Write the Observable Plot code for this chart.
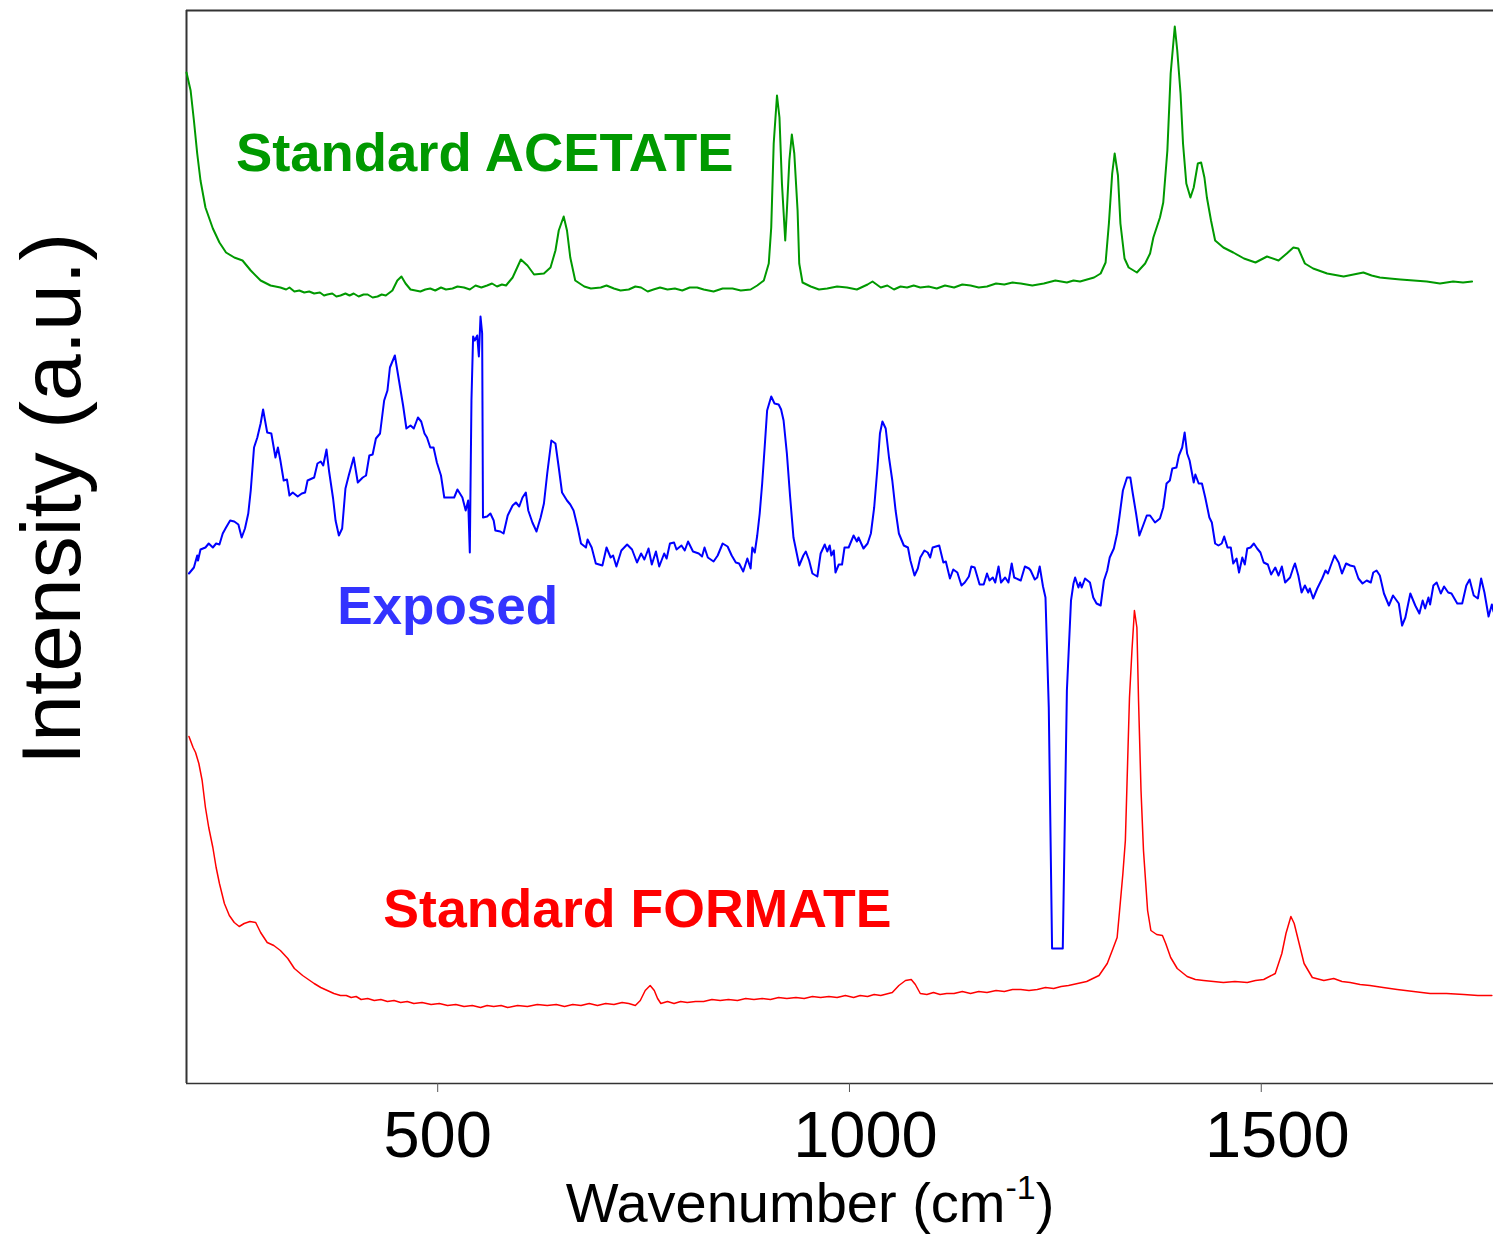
<!DOCTYPE html>
<html>
<head>
<meta charset="utf-8">
<script src="https://cdn.jsdelivr.net/npm/d3@7"></script>
<script src="https://cdn.jsdelivr.net/npm/@observablehq/plot@0.6"></script>
<style>
  html, body { margin: 0; padding: 0; background: #fff; }
  svg { display: block; }
</style>
</head>
<body>
<div id="chart"></div>
<script>
// ---- Data (wavenumber cm-1, intensity a.u. with vertical offsets as in the figure) ----
const seriesNames = ["Standard ACETATE", "Exposed", "Standard FORMATE"];
const tickValues = [500, 1000, 1500];

const acetate = [[195,1011],[200,993],[204,963],[208,930],[212,903],[218,876],[227,855],[235,841],[243,831],[253,826],
[263,823],[273,813],[285,803],[297,798],[303,797],[309,796],[316,794],[320,796],[326,792],[332,793],[338,791],[344,792],[350,790],[357,791],[362,788],[366,789],[372,790],[377,787],[382,788],[388,790],[393,788],[398,790],[404,787],[410,789],[415,789],[421,786],[427,787],[432,789],[437,788],
[445,793],[451,803],[456,807],[461,800],[467,794],[479,792],[485,794],[491,795],[497,793],[504,796],[510,794],[518,795],[524,797],[532,796],[539,794],[546,798],[553,796],[560,798],[566,800],[572,797],[578,799],[583,798],
[591,806],[601,824],[609,818],[617,809],[629,810],[637,816],[643,833],[647,853],[653,867],[657,853],
[661,826],[667,803],[678,797],[686,795],[698,796],[705,798],[714,795],[722,793],[732,794],[740,797],[747,796],[755,792],[762,794],[770,796],[779,794],[788,795],[797,793],[806,796],[815,796],[823,794],[835,792],[846,795],[858,795],[868,793],[880,794],
[888,798],[896,803],[902,820],[905,856],[908,940],[912,988],[915,966],[918,900],[922,843],[924,873],
[927,923],[930,949],[933,930],[937,873],[939,820],[943,801],[953,797],[963,794],[973,795],[985,797],[997,796],[1009,794],
[1022,799],[1028,802],[1038,796],[1046,798],[1054,794],[1062,797],[1070,796],[1078,798],[1086,796],[1096,797],[1106,795],[1116,798],[1127,796],[1137,799],[1147,798],[1157,796],[1167,797],[1178,800],[1188,799],[1198,801],[1208,800],[1222,798],[1236,800],[1250,803],[1264,801],[1272,803],
[1280,802],[1297,806],[1305,810],[1311,821],[1315,860],[1319,910],[1322,930],[1326,908],[1329,860],[1334,825],
[1339,816],[1349,811],[1359,820],[1365,830],[1369,846],[1377,866],[1381,881],[1386,933],[1390,1010],[1395,1057],
[1398,1033],[1402,990],[1405,940],[1409,900],[1414,886],[1418,896],[1423,920],[1427,921],[1431,906],[1434,886],
[1439,863],[1444,843],[1454,836],[1466,831],[1479,825],[1493,821],[1507,827],[1521,823],[1531,830],[1539,836],
[1545,835],[1553,820],[1563,815],[1580,810],[1600,807],[1612,809],[1624,811],[1634,808],[1644,806],[1656,805],[1669,804],[1685,803],[1701,802],[1717,800],[1733,802],[1745,801],[1756,802]];

const exposed = [[198,510],[204,516],[208,528],[209,523],[212,534],[218,536],[222,540],[227,536],[231,540],[235,539],[239,550],[243,556],[248,563],[253,562],[258,559],[262,546],[266,555],[270,570],[273,593],[277,636],[281,646],[285,660],[288,674],[293,651],[298,650],[303,626],[306,636],[309,623],[313,603],[317,604],[320,588],[324,591],[330,587],[335,590],[339,591],[342,603],[350,606],[354,620],[358,622],[361,618],[365,634],[368,613],[373,585],[376,563],[380,548],[384,555],[388,595],[392,608],[398,626],[403,601],[409,606],[413,608],[417,628],[421,629],[425,645],[430,650],[435,683],[439,693],[442,716],[448,728],[453,703],[458,678],[462,655],[467,658],[471,655],[476,666],[480,662],[484,650],[487,646],[491,636],[495,636],[499,621],[504,608],[508,586],[516,586],[520,586],[524,594],[530,586],[534,573],[537,583],[539,531],[541,683],[543,747],[545,743],[548,748],[550,727],[552,767],[554,750],[555,566],[560,567],[564,570],[568,563],[570,553],[576,552],[580,550],[585,568],[591,578],[595,581],[599,577],[603,586],[607,591],[610,573],[615,561],[620,552],[625,566],[629,580],[633,610],[638,643],[643,640],[647,616],[651,591],[657,583],[661,579],[665,573],[670,556],[674,540],[680,536],[682,544],[687,536],[692,520],[700,518],[705,536],[710,526],[713,528],[717,517],[723,533],[730,539],[736,534],[742,521],[747,530],[751,524],[756,535],[760,519],[765,532],[769,517],[775,530],[778,525],[782,540],[787,541],[790,534],[796,538],[800,533],[804,542],[810,532],[817,530],[821,527],[824,536],[828,526],[835,522],[840,528],[846,540],[852,537],[857,528],[862,521],[866,520],[871,512],[876,525],[880,515],[882,536],[885,531],[888,548],[891,570],[894,600],[897,636],[900,673],[905,687],[909,680],[914,679],[917,674],[920,663],[924,630],[928,586],[932,546],[936,530],[939,518],[944,528],[947,532],[951,523],[955,510],[961,507],[965,530],[970,539],[973,532],[976,538],[978,528],[981,533],[983,511],[987,519],[991,519],[994,536],[999,536],[1005,548],[1009,542],[1011,546],[1017,535],[1022,540],[1026,550],[1030,576],[1034,616],[1037,650],[1040,662],[1044,655],[1048,626],[1052,603],[1056,573],[1060,550],[1066,538],[1071,536],[1074,523],[1079,508],[1083,515],[1086,526],[1091,533],[1095,531],[1098,526],[1101,536],[1109,538],[1114,521],[1117,522],[1122,505],[1126,514],[1131,511],[1136,498],[1140,501],[1145,507],[1148,517],[1152,516],[1158,499],[1163,499],[1167,510],[1170,503],[1174,506],[1177,501],[1181,517],[1184,501],[1189,506],[1193,501],[1197,520],[1200,506],[1208,503],[1213,517],[1218,515],[1220,513],[1225,504],[1228,506],[1231,517],[1235,497],[1238,486],[1242,376],[1246,135],[1259,135],[1264,393],[1269,483],[1272,500],[1274,506],[1278,496],[1280,501],[1282,496],[1286,505],[1292,501],[1296,486],[1300,480],[1305,478],[1309,503],[1313,513],[1316,526],[1321,535],[1325,550],[1328,568],[1332,593],[1337,606],[1341,606],[1344,590],[1348,570],[1352,548],[1357,559],[1361,568],[1365,568],[1371,561],[1377,565],[1381,576],[1385,600],[1389,603],[1392,615],[1397,616],[1400,628],[1404,636],[1407,651],[1410,630],[1413,623],[1418,601],[1420,609],[1424,600],[1428,600],[1432,586],[1437,566],[1440,561],[1444,540],[1448,538],[1452,540],[1455,547],[1459,536],[1463,536],[1466,520],[1470,525],[1473,511],[1477,526],[1480,519],[1483,535],[1487,536],[1491,540],[1495,535],[1499,531],[1503,521],[1508,519],[1512,509],[1517,516],[1521,508],[1525,517],[1529,501],[1535,506],[1539,516],[1541,520],[1545,508],[1549,491],[1553,498],[1557,491],[1559,495],[1563,485],[1568,495],[1574,505],[1578,513],[1581,510],[1584,517],[1589,528],[1594,521],[1598,510],[1603,520],[1608,518],[1613,517],[1618,505],[1623,500],[1628,503],[1633,501],[1636,511],[1640,513],[1644,508],[1649,490],[1655,478],[1660,488],[1667,480],[1671,458],[1675,466],[1681,490],[1687,478],[1692,470],[1696,483],[1699,475],[1703,486],[1705,479],[1709,498],[1713,501],[1718,490],[1722,497],[1727,491],[1731,490],[1738,480],[1744,480],[1749,498],[1753,504],[1758,488],[1763,485],[1767,505],[1771,491],[1776,467],[1780,479],[1782,472]];

const formate = [[198,347],[203,336],[206,331],[210,320],[214,303],[218,276],[222,256],[227,236],[231,216],[235,200],[241,180],[247,168],[253,161],[259,157],[265,160],[272,162],[279,161],[285,151],[293,141],[301,138],[309,133],[318,125],[326,115],[336,108],[350,100],[358,96],
[366,93],[374,90],[382,88],[389,88],[395,86],[401,87],[407,84],[415,85],[423,83],[431,84],[439,82],[447,83],[455,81],[463,82],[471,80],[481,81],[492,79],[502,80],[512,78],[522,79],[532,77],[542,78],[552,76],[560,78],[568,77],[577,78],[585,76],[597,78],[609,77],[621,79],[633,78],[644,79],[654,77],[664,79],[674,78],[684,80],[694,78],[704,80],[714,79],[724,81],[732,80],
[740,78],[746,83],[752,93],[758,98],[763,93],[767,85],[771,80],[779,82],[787,80],[795,82],[803,81],[813,82],[823,82],[833,84],[843,83],[853,84],[864,83],[874,85],[884,84],[894,85],[904,84],[914,86],[924,85],[935,86],[945,85],[955,87],[965,86],[975,87],[985,86],[995,88],[1005,86],[1013,88],[1022,87],[1030,89],[1038,88],
[1052,91],[1060,98],[1068,103],[1075,104],[1080,99],[1086,90],[1094,89],[1102,91],[1110,89],[1118,90],[1127,90],[1137,92],[1147,90],[1157,92],[1167,91],[1178,93],[1188,92],[1198,94],[1208,94],[1218,93],[1228,94],[1238,96],[1248,95],[1257,97],[1266,98],[1277,100],[1288,102],
[1303,108],[1313,120],[1320,135],[1325,146],[1328,173],[1332,210],[1335,243],[1337,300],[1340,386],[1343,433],[1346,473],[1349,456],[1351,383],[1354,293],[1357,233],[1362,173],[1366,153],[1373,149],[1380,148],[1384,140],[1390,126],[1398,115],[1410,107],[1420,104],[1430,103],[1442,102],[1454,101],[1468,102],[1483,101],[1493,103],[1503,104],
[1517,110],[1525,130],[1530,150],[1536,167],[1540,160],[1546,140],[1552,120],[1562,106],[1576,103],[1588,105],[1598,102],[1608,101],[1620,99],[1632,98],[1648,96],[1665,94],[1685,92],[1705,90],[1725,90],[1746,89],[1763,88],[1780,88]];

const seriesColors = ["#009900", "#0000ff", "#ff0000"];
const labelColors = ["#009900", "#3333ff", "#ff0000"];

const xDomain = [195, 1782];
const yDomain = [0, 1073];

function rows(pairs, name) {
  return pairs.map(([w, v]) => ({series: name, wavenumber: w, intensity: v}));
}
const table = [
  ...rows(acetate, seriesNames[0]),
  ...rows(exposed, seriesNames[1]),
  ...rows(formate, seriesNames[2])
];

const font = "Arial, 'Liberation Sans', Helvetica, sans-serif";
const tickText = {tickSize: 0, tickPadding: 27, fontSize: 65, fill: "black", label: null, tickFormat: d => String(d)};

const svg = Plot.plot({
  width: 1493,
  height: 1234,
  marginLeft: 186,
  marginRight: 0,
  marginTop: 10,
  marginBottom: 151,
  style: {fontFamily: font, background: "white", color: "black", overflow: "visible"},
  x: {domain: xDomain, axis: null},
  y: {domain: yDomain, axis: null},
  marks: [
    Plot.ruleY([yDomain[1]], {stroke: "#333", strokeWidth: 2}),
    Plot.ruleY([yDomain[0]], {stroke: "#333", strokeWidth: 1.5}),
    Plot.ruleX([xDomain[0]], {stroke: "#333", strokeWidth: 2}),
    Plot.axisX({ticks: tickValues, tickSize: 9, stroke: "#555", label: null, tickFormat: () => ""}),
    Plot.axisX({ticks: tickValues.slice(0, 1), ...tickText}),
    Plot.axisX({ticks: tickValues.slice(1), dx: 16, ...tickText}),
    Plot.line(table.filter(d => d.series === seriesNames[0]), {x: "wavenumber", y: "intensity", stroke: seriesColors[0], strokeWidth: 2}),
    Plot.line(table.filter(d => d.series === seriesNames[1]), {x: "wavenumber", y: "intensity", stroke: seriesColors[1], strokeWidth: 2}),
    Plot.line(table.filter(d => d.series === seriesNames[2]), {x: "wavenumber", y: "intensity", stroke: seriesColors[2], strokeWidth: 1.5}),
    Plot.text([seriesNames[0]], {x: 255, y: 951, text: d => d, textAnchor: "start", lineAnchor: "top", fontSize: 54.4, fontWeight: "bold", fill: labelColors[0]}),
    Plot.text([seriesNames[1]], {x: 378, y: 497, text: d => d, textAnchor: "start", lineAnchor: "top", fontSize: 53, fontWeight: "bold", fill: labelColors[1]}),
    Plot.text([seriesNames[2]], {x: 434, y: 195, text: d => d, textAnchor: "start", lineAnchor: "top", fontSize: 53.6, fontWeight: "bold", fill: labelColors[2]})
  ]
});

const s = d3.select(svg);
// x-axis title with superscript
const xl = s.append("text")
  .attr("x", 810).attr("y", 1222)
  .attr("text-anchor", "middle")
  .attr("font-size", 56)
  .attr("fill", "black");
xl.append("tspan").text("Wavenumber (cm");
xl.append("tspan").attr("font-size", 34).attr("dy", -23).text("-1");
xl.append("tspan").attr("font-size", 56).attr("dy", 23).text(")");

// y-axis title
s.append("text")
  .attr("transform", "translate(80,499) rotate(-90)")
  .attr("text-anchor", "middle")
  .attr("font-size", 84)
  .attr("fill", "black")
  .text("Intensity (a.u.)");

document.getElementById("chart").appendChild(svg);
</script>
</body>
</html>
